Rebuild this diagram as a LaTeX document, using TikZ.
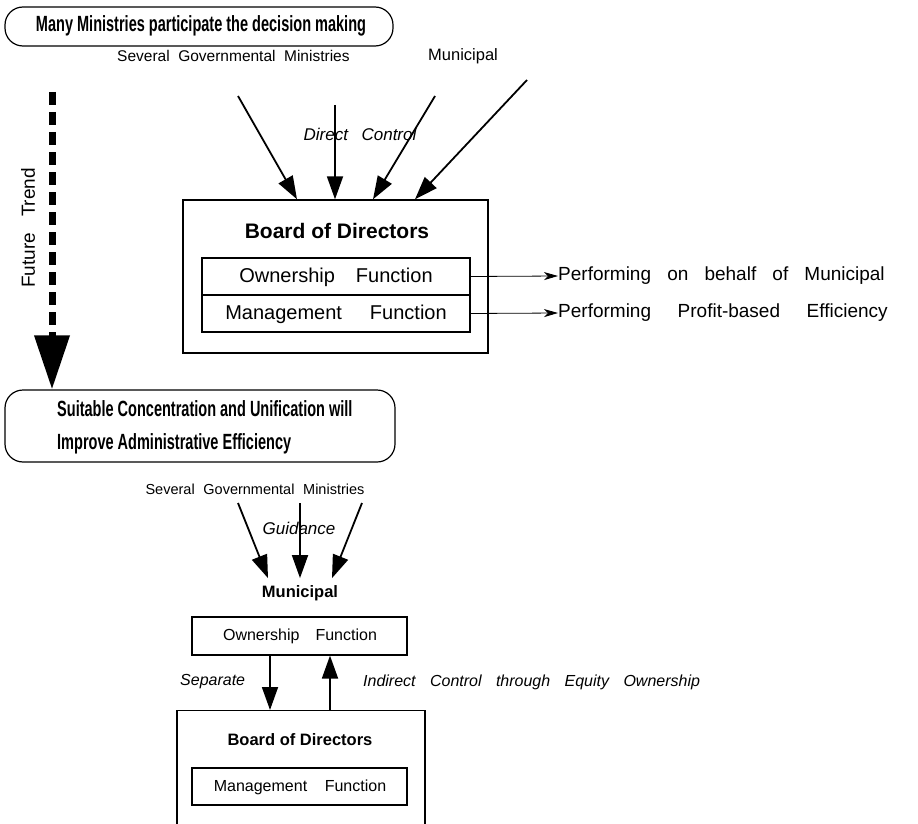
\documentclass[tikz,border=0pt]{standalone}
\usepackage{fontspec}
\setmainfont{Liberation Sans}
\newfontfamily\headfont[FakeStretch=0.66]{Liberation Sans}
\usetikzlibrary{arrows.meta}

% font size helper and wide interword spacing helper
\newcommand\setsz[1]{\fontsize{#1}{#1}\selectfont}
\newcommand\wsp[1]{\spaceskip=#1em plus .2em minus .1em\relax}

\tikzset{
  txt/.style={inner sep=0pt, text=black},
  roundbox/.style={draw, line width=1.2pt, rounded corners=18pt},
  framebox/.style={draw, line width=1.4pt, inner sep=0pt},
  rowbox/.style={draw, line width=1.2pt, inner sep=0pt},
  bigarrow/.style={line width=1.8pt, -{Triangle[length=23pt,width=16pt]}},
  thinarrow/.style={line width=0.8pt, -{Stealth[length=14pt,width=8pt,inset=4pt]}},
  trendarrow/.style={line width=7pt, dash pattern=on 13pt off 7pt,
                     -{Triangle[length=54pt,width=34pt]}},
}

\begin{document}
\begin{tikzpicture}[x=1pt,y=-1pt]
\useasboundingbox (0,0) rectangle (918,824);

% ---------- current situation ----------
\node[roundbox, minimum width=388pt, minimum height=39pt] (top) at (199,26.5) {};
\node[txt, font=\headfont\bfseries\setsz{22}] (toptext) at (201,25.5)
  {Many Ministries participate the decision making};

\node[txt, font=\setsz{15.5}\wsp{0.55}, anchor=west] (gov1) at (117,56)
  {Several Governmental Ministries};
\node[txt, font=\setsz{16.5}, anchor=west] (mun1) at (428,56) {Municipal};

% upper board with its two functions
\node[framebox, minimum width=305pt, minimum height=153pt] (bd1) at (335.5,276.5) {};
\node[txt, font=\bfseries\setsz{21}] (bd1t) at (337,231) {Board of Directors};
\node[rowbox, minimum width=268pt, minimum height=37pt] (own1) at (336,276.5) {};
\node[rowbox, minimum width=268pt, minimum height=37pt] (man1) at (336,313.5) {};
\node[txt, font=\setsz{20}\wsp{1.05}] (own1t) at (336,277) {Ownership Function};
\node[txt, font=\setsz{20}\wsp{1.4}] (man1t) at (336,314) {Management Function};

\node[txt, font=\itshape\setsz{17}\wsp{0.8}] (dc) at (360,134) {Direct Control};

% control arrows into the board
\coordinate (c1) at (238,96);
\coordinate (c2) at (335,105);
\coordinate (c3) at (435,96);
\coordinate (c4) at (527,80);
\draw[bigarrow] (c1) -- ([xshift=-38.5pt]bd1.north);
\draw[bigarrow] (c2) -- ([xshift=-0.5pt]bd1.north);
\draw[bigarrow] (c3) -- ([xshift=37.5pt]bd1.north);
\draw[bigarrow] (c4) -- ([xshift=79.5pt]bd1.north);

% what each function performs
\node[txt, font=\setsz{19}\wsp{0.85}, anchor=west] (perf1) at (558,276)
  {Performing on behalf of Municipal};
\node[txt, font=\setsz{19}\wsp{1.4}, anchor=west] (perf2) at (558,313)
  {Performing Profit-based Efficiency};
\draw[thinarrow] (own1.east) -- (perf1.west);
\draw[thinarrow] (man1.east) -- (perf2.west);

% ---------- trend ----------
\coordinate (ft0) at (52,92);
\node[txt, rotate=90, font=\setsz{19}\wsp{0.85}] (ftt) at (28,228) {Future Trend};

% ---------- proposed situation ----------
\node[roundbox, minimum width=390pt, minimum height=72pt] (mid) at (200,426) {};
\node[txt, font=\headfont\bfseries\setsz{22}, align=left, anchor=west] (midtext) at (57,427)
  {Suitable Concentration and Unification will\\[11pt]Improve Administrative Efficiency};
\draw[trendarrow] (ft0) -- (ft0 |- mid.north);

\node[txt, font=\setsz{14.5}\wsp{0.6}] (gov2) at (255,489) {Several Governmental Ministries};
\node[txt, font=\itshape\setsz{17}] (gd) at (299,528) {Guidance};
\node[txt, font=\bfseries\setsz{16.5}] (mun2) at (300,593) {Municipal};

\coordinate (g1) at (238,503);
\coordinate (g2) at (300,503);
\coordinate (g3) at (362,503);
\draw[bigarrow] (g1) -- ([xshift=-32pt,yshift=7pt]mun2.north);
\draw[bigarrow] (g2) -- ([yshift=7pt]mun2.north);
\draw[bigarrow] (g3) -- ([xshift=32pt,yshift=7pt]mun2.north);

\node[rowbox, minimum width=215pt, minimum height=38pt] (own2) at (299.5,636) {};
\node[txt, font=\setsz{16}\wsp{1}] (own2t) at (300,636) {Ownership Function};

% lower board, open towards the bottom edge
\node[framebox, minimum width=248pt, minimum height=140pt, anchor=north] (bd2) at (301,710) {};
\node[txt, font=\bfseries\setsz{16.5}] (bd2t) at (300,740) {Board of Directors};
\node[rowbox, minimum width=215pt, minimum height=37pt] (man2) at (299.5,786.5) {};
\node[txt, font=\setsz{16}\wsp{1.1}] (man2t) at (300,787) {Management Function};

\draw[bigarrow] ([xshift=-29.5pt]own2.south) -- ([xshift=-29.5pt]own2.south |- bd2.north);
\draw[bigarrow] ([xshift=30.5pt]own2.south |- bd2.north) -- ([xshift=30.5pt]own2.south);

\node[txt, font=\itshape\setsz{16}, anchor=west] (sep) at (180,682) {Separate};
\node[txt, font=\itshape\setsz{16}\wsp{0.9}, anchor=west] (ind) at (363,682)
  {Indirect Control through Equity Ownership};
\end{tikzpicture}
\end{document}
